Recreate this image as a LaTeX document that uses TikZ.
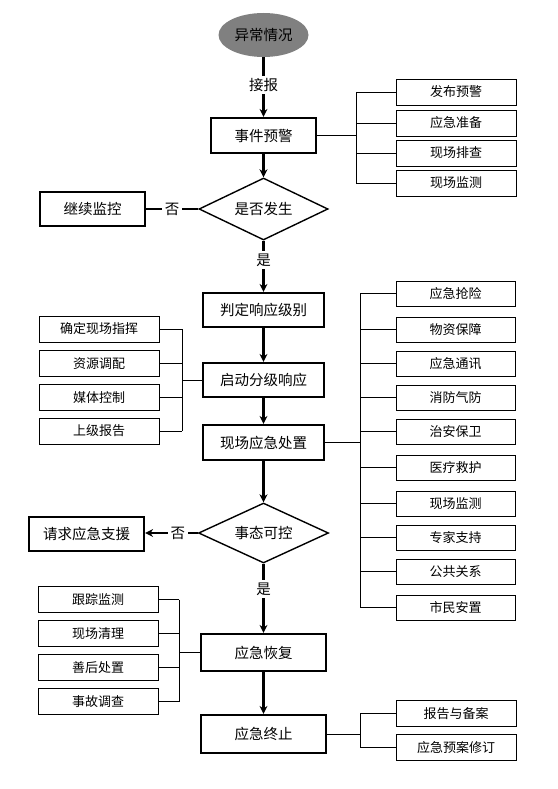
\documentclass[tikz,border=0pt]{standalone}
\usepackage{fontspec}
\setmainfont{Noto Sans CJK SC}
\usetikzlibrary{arrows.meta,shapes.geometric}
\tikzset{
  mainbox/.style={draw, line width=2.2pt, inner sep=0pt, font=\fontsize{14.5}{16}\selectfont},
  sidebox/.style={draw, line width=0.8pt, inner sep=0pt, minimum width=120pt, minimum height=26pt, font=\fontsize{13}{15}\selectfont},
  decision/.style={draw, diamond, line width=1.4pt, inner sep=0pt, aspect=2, font=\fontsize{14.5}{16}\selectfont},
  arr/.style={line width=2.2pt, -{Stealth[length=8pt,width=8pt]}},
  plainline/.style={line width=2.2pt},
  brk/.style={line width=0.8pt},
  lbl/.style={fill=white, inner sep=2.5pt, font=\fontsize{14.5}{16}\selectfont}
}
\begin{document}
\begin{tikzpicture}[x=1pt,y=-1pt]
\useasboundingbox (0,0) rectangle (557,789);

% main flow
\node[ellipse, fill=black!50, minimum width=90pt, minimum height=44pt, inner sep=0pt, font=\fontsize{14.5}{16}\selectfont] (e0) at (263.5,35) {异常情况};
\node[mainbox, minimum width=105pt, minimum height=35pt] (n1) at (263.5,135.5) {事件预警};
\node[decision, minimum width=129pt, minimum height=62pt] (d1) at (263.5,209) {是否发生};
\node[mainbox, minimum width=105pt, minimum height=34pt] (k) at (92.5,209) {继续监控};
\node[mainbox, minimum width=121pt, minimum height=34pt] (n2) at (263.5,310) {判定响应级别};
\node[mainbox, minimum width=121pt, minimum height=34pt] (n3) at (263.5,380) {启动分级响应};
\node[mainbox, minimum width=121pt, minimum height=35pt] (n4) at (263.5,442.5) {现场应急处置};
\node[decision, minimum width=130pt, minimum height=60pt] (d2) at (263.5,533) {事态可控};
\node[mainbox, minimum width=115pt, minimum height=34pt] (q) at (86.5,534) {请求应急支援};
\node[mainbox, minimum width=125pt, minimum height=37pt] (n5) at (263.5,652.5) {应急恢复};
\node[mainbox, minimum width=125pt, minimum height=38pt] (n6) at (263.5,734) {应急终止};

\draw[arr] (e0.south) -- node[lbl, pos=0.47] {接报} (n1.north);
\draw[arr] (n1.south) -- (d1.north);
\draw[plainline] (d1.west) -- node[lbl] {否} (k.east);
\draw[arr] (d1.south) -- node[lbl, pos=0.38] {是} (n2.north);
\draw[arr] (n2.south) -- (n3.north);
\draw[arr] (n3.south) -- (n4.north);
\draw[arr] (n4.south) -- (d2.north);
\draw[arr] (d2.west) -- node[lbl, pos=0.38] {否} (q.east |- d2.west);
\draw[arr] (d2.south) -- node[lbl, pos=0.37] {是} (n5.north);
\draw[arr] (n5.south) -- (n6.north);

% side group A (事件预警)
\coordinate (bA) at (356,0);
\node[sidebox] (a1) at (456,92) {发布预警};
\node[sidebox] (a2) at (456,123) {应急准备};
\node[sidebox] (a3) at (456,153) {现场排查};
\node[sidebox] (a4) at (456,183) {现场监测};
\draw[brk] (n1.east) -- (n1.east -| bA);
\draw[brk] (a1.west -| bA) -- (a4.west -| bA);
\foreach \b in {a1,a2,a3,a4} \draw[brk] (\b.west) -- (\b.west -| bA);

% side group B (启动分级响应)
\coordinate (bB) at (182,0);
\node[sidebox] (b1) at (99,329) {确定现场指挥};
\node[sidebox] (b2) at (99,363.5) {资源调配};
\node[sidebox] (b3) at (99,397.5) {媒体控制};
\node[sidebox] (b4) at (99,431) {上级报告};
\draw[brk] (n3.west) -- (n3.west -| bB);
\draw[brk] (b1.east -| bB) -- (b4.east -| bB);
\foreach \b in {b1,b2,b3,b4} \draw[brk] (\b.east) -- (\b.east -| bB);

% side group C (现场应急处置)
\coordinate (bC) at (360,0);
\node[sidebox, minimum width=119pt, minimum height=25pt] (c1) at (455.5,293.5) {应急抢险};
\node[sidebox, minimum width=119pt, minimum height=25pt] (c2) at (455.5,329.5) {物资保障};
\node[sidebox, minimum width=119pt, minimum height=25pt] (c3) at (455.5,363.5) {应急通讯};
\node[sidebox, minimum width=119pt, minimum height=25pt] (c4) at (455.5,397.5) {消防气防};
\node[sidebox, minimum width=119pt, minimum height=25pt] (c5) at (455.5,431.5) {治安保卫};
\node[sidebox, minimum width=119pt, minimum height=25pt] (c6) at (455.5,467.5) {医疗救护};
\node[sidebox, minimum width=119pt, minimum height=25pt] (c7) at (455.5,503.5) {现场监测};
\node[sidebox, minimum width=119pt, minimum height=25pt] (c8) at (455.5,537.5) {专家支持};
\node[sidebox, minimum width=119pt, minimum height=25pt] (c9) at (455.5,571.5) {公共关系};
\node[sidebox, minimum width=119pt, minimum height=25pt] (c10) at (455.5,607.5) {市民安置};
\draw[brk] (n4.east) -- (n4.east -| bC);
\draw[brk] (c1.west -| bC) -- (c10.west -| bC);
\foreach \b in {c1,c2,c3,c4,c5,c6,c7,c8,c9,c10} \draw[brk] (\b.west) -- (\b.west -| bC);

% side group D (应急恢复)
\coordinate (bD) at (179,0);
\node[sidebox] (f1) at (98,599.5) {跟踪监测};
\node[sidebox] (f2) at (98,633.5) {现场清理};
\node[sidebox] (f3) at (98,667.5) {善后处置};
\node[sidebox] (f4) at (98,701.5) {事故调查};
\draw[brk] (n5.west) -- (n5.west -| bD);
\draw[brk] (f1.east -| bD) -- (f4.east -| bD);
\foreach \b in {f1,f2,f3,f4} \draw[brk] (\b.east) -- (\b.east -| bD);

% side group E (应急终止)
\coordinate (bE) at (360,0);
\node[sidebox] (g1) at (456,713.5) {报告与备案};
\node[sidebox] (g2) at (456,747.5) {应急预案修订};
\draw[brk] (n6.east) -- (n6.east -| bE);
\draw[brk] (g1.west -| bE) -- (g2.west -| bE);
\foreach \b in {g1,g2} \draw[brk] (\b.west) -- (\b.west -| bE);
\end{tikzpicture}
\end{document}
